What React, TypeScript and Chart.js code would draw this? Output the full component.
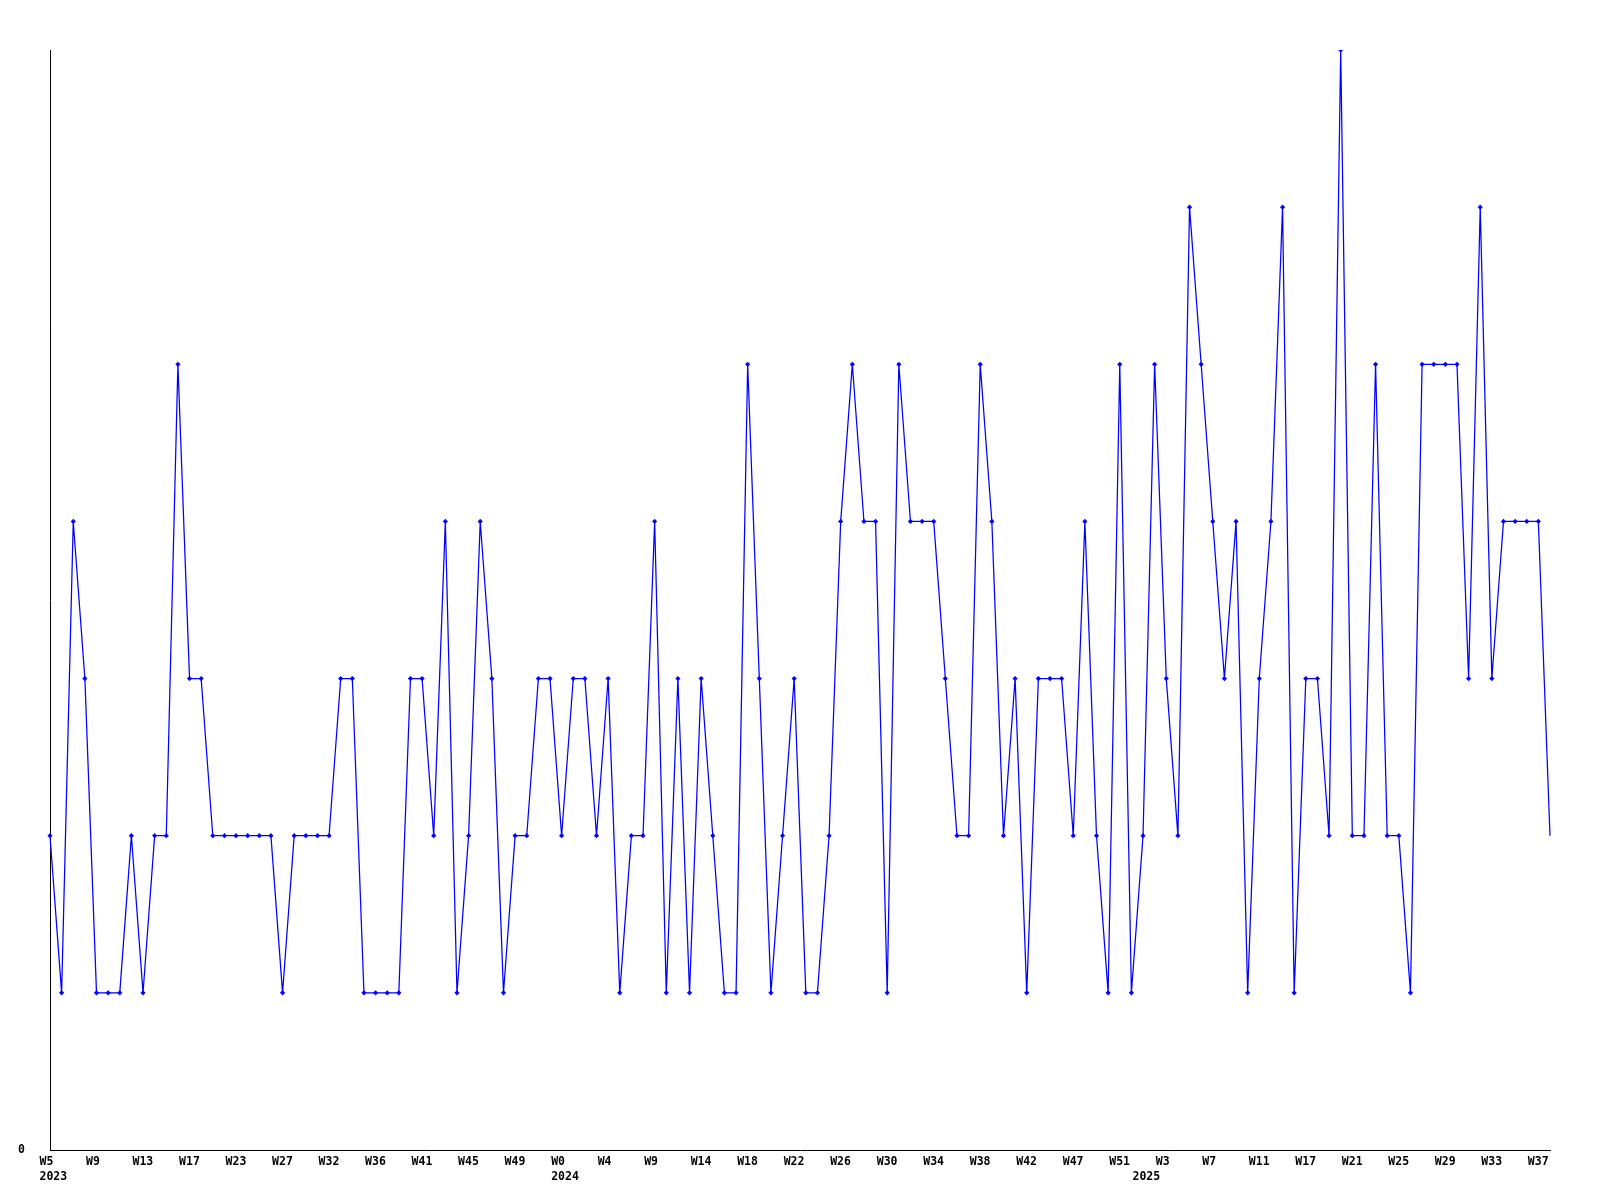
import React, { useEffect, useRef } from "react";
import { Chart, registerables } from "chart.js";

Chart.register(...registerables);

// Weekly counts, one per category
const values: number[] = [
  2, 1, 4, 3, 1, 1, 1, 2, 1, 2, 2, 5, 3, 3, 2, 2, 2, 2, 2, 2,
  1, 2, 2, 2, 2, 3, 3, 1, 1, 1, 1, 3, 3, 2, 4, 1, 2, 4, 3, 1,
  2, 2, 3, 3, 2, 3, 3, 2, 3, 1, 2, 2, 4, 1, 3, 1, 3, 2, 1, 1,
  5, 3, 1, 2, 3, 1, 1, 2, 4, 5, 4, 4, 1, 5, 4, 4, 4, 3, 2, 2,
  5, 4, 2, 3, 1, 3, 3, 3, 2, 4, 2, 1, 5, 1, 2, 5, 3, 2, 6, 5,
  4, 3, 4, 1, 3, 4, 6, 1, 3, 3, 2, 7, 2, 2, 5, 2, 2, 1, 5, 5,
  5, 5, 3, 6, 3, 4, 4, 4, 4, 2,
];

// Visible week tick labels (every 4th category)
const weekTicks: string[] = [
  "W5", "W9", "W13", "W17", "W23", "W27", "W32", "W36", "W41", "W45", "W49",
  "W0", "W4", "W9", "W14", "W18", "W22", "W26", "W30", "W34", "W38", "W42",
  "W47", "W51", "W3", "W7", "W11", "W17", "W21", "W25", "W29", "W33", "W37",
];
const tickEvery = 4;

// Year markers: category index where each year label sits
const yearIndex: number[] = [0, 44, 94];
const yearLabels: string[] = ["2023", "2024", "2025"];

const yMax = 7;

const categories: string[] = values.map((_, i) =>
  i % tickEvery === 0 ? weekTicks[i / tickEvery] ?? "" : ""
);

const FONT = { family: "'DejaVu Sans Mono', monospace", size: 11.5, weight: "bold" as const, lineHeight: "15px" };

export default function App() {
  const ref = useRef<HTMLCanvasElement | null>(null);

  useEffect(() => {
    if (!ref.current) return;
    const lastIdx = values.length - 1;
    const chart = new Chart(ref.current, {
      type: "line",
      data: {
        labels: categories,
        datasets: [
          {
            data: values,
            borderColor: "#0000ff",
            backgroundColor: "#0000ff",
            borderWidth: 1.25,
            tension: 0,
            fill: false,
            pointStyle: "rectRot",
            pointRadius: (ctx: any) => (ctx.dataIndex === lastIdx ? 0 : 2.6),
            pointBorderWidth: 0,
            pointBackgroundColor: "#0000ff",
          },
        ],
      },
      options: {
        animation: false,
        responsive: false,
        devicePixelRatio: 1,
        layout: { padding: { top: 50, right: 50, left: 0, bottom: 0 } },
        plugins: { legend: { display: false }, tooltip: { enabled: false } },
        scales: {
          x: {
            type: "category",
            offset: false,
            grid: { display: false, drawTicks: false },
            border: { display: true, color: "#000", width: 1 },
            ticks: {
              autoSkip: false,
              maxRotation: 0,
              minRotation: 0,
              align: "start",
              labelOffset: -10.5,
              padding: 5,
              color: "#000",
              font: FONT,
              callback: (_v: any, index: number) => {
                const w = categories[index] ?? "";
                const yi = yearIndex.indexOf(index);
                if (yi >= 0) return [w, yearLabels[yi]];
                return w;
              },
            },
            afterFit: (scale: any) => {
              scale.height = 50;
            },
          },
          y: {
            min: 0,
            max: yMax,
            grid: { display: false, drawTicks: false },
            border: { display: true, color: "#000", width: 1 },
            ticks: {
              stepSize: yMax,
              padding: 25,
              color: "#000",
              font: FONT,
              callback: (v: any) => (v === 0 ? "0" : ""),
            },
            afterFit: (scale: any) => {
              scale.width = 50;
            },
          },
        },
      },
    });
    return () => chart.destroy();
  }, []);

  return (
    <div style={{ position: "absolute", left: 0, top: 0, width: 1600, height: 1200, background: "#fff" }}>
      <canvas ref={ref} width={1600} height={1200} style={{ width: 1600, height: 1200 }} />
    </div>
  );
}
